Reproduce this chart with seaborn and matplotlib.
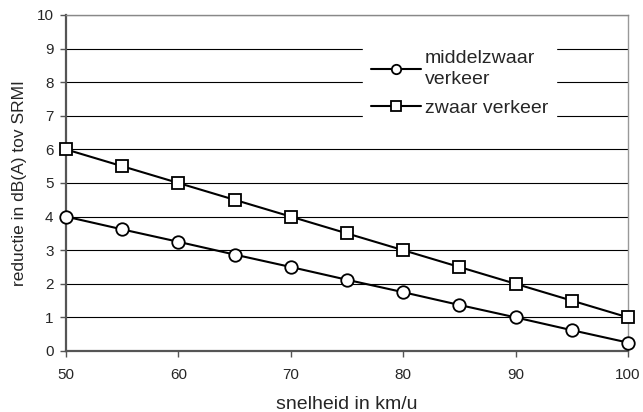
import matplotlib
matplotlib.use("Agg")
import matplotlib.pyplot as plt
import seaborn as sns
import pandas as pd

snelheid = [50, 55, 60, 65, 70, 75, 80, 85, 90, 95, 100]
middelzwaar = [4.0, 3.62, 3.25, 2.87, 2.5, 2.12, 1.75, 1.37, 1.0, 0.62, 0.25]
zwaar = [6.0, 5.5, 5.0, 4.5, 4.0, 3.5, 3.0, 2.5, 2.0, 1.5, 1.0]
series_names = ["middelzwaar\nverkeer", "zwaar verkeer"]
markers = ["o", "s"]

sns.set_style("white")
plt.rcParams["font.family"] = ["Liberation Sans", "DejaVu Sans"]

df = pd.DataFrame({
    "snelheid": snelheid * 2,
    "reductie": middelzwaar + zwaar,
    "type": [series_names[0]] * len(snelheid) + [series_names[1]] * len(snelheid),
})

fig = plt.figure(figsize=(6.43, 4.12), dpi=100)
ax = fig.add_axes([66 / 643, 1 - 351 / 412, (628 - 66) / 643, (351 - 15) / 412])

for name, mk in zip(series_names, markers):
    sub = df[df["type"] == name]
    sns.lineplot(data=sub, x="snelheid", y="reductie", ax=ax, color="black",
                 linewidth=1.5, marker=mk, markersize=9,
                 markerfacecolor="white", markeredgecolor="black",
                 markeredgewidth=1.3, label=name, clip_on=False, zorder=5)

ax.set_xlim(50, 100)
ax.set_ylim(0, 10)
ax.set_xticks(range(50, 101, 10))
ax.set_yticks(range(0, 11, 1))
ax.yaxis.grid(True, color="black", linewidth=0.8)
ax.set_axisbelow(True)
ax.tick_params(axis="both", labelsize=11, length=4, width=1, color="#555555",
               direction="out", left=True, bottom=True)
ax.tick_params(axis="y", pad=5)
ax.tick_params(axis="x", pad=8)
for side in ["left", "bottom"]:
    ax.spines[side].set_color("#555555")
    ax.spines[side].set_linewidth(1.6)
ax.spines["right"].set_color("#999999")
ax.spines["right"].set_linewidth(1.0)
ax.spines["top"].set_color("#888888")
ax.spines["top"].set_linewidth(1.0)

ax.set_xlabel("snelheid in km/u", fontsize=14, labelpad=10)
ax.set_ylabel("reductie in dB(A) tov SRMI", fontsize=12.5, labelpad=7)

leg = ax.legend(loc="upper left", bbox_to_anchor=(0.528, 0.918), frameon=True,
                fontsize=14, handlelength=2.6, handletextpad=0.2,
                borderpad=0.4, labelspacing=0.55, fancybox=False,
                markerscale=0.75, borderaxespad=0)
for t in leg.get_texts():
    t.set_linespacing(1.3)
leg.get_frame().set_edgecolor("white")
leg.get_frame().set_facecolor("white")
leg.get_frame().set_alpha(1)
leg.set_zorder(10)

fig.savefig("out.png", dpi=100)
